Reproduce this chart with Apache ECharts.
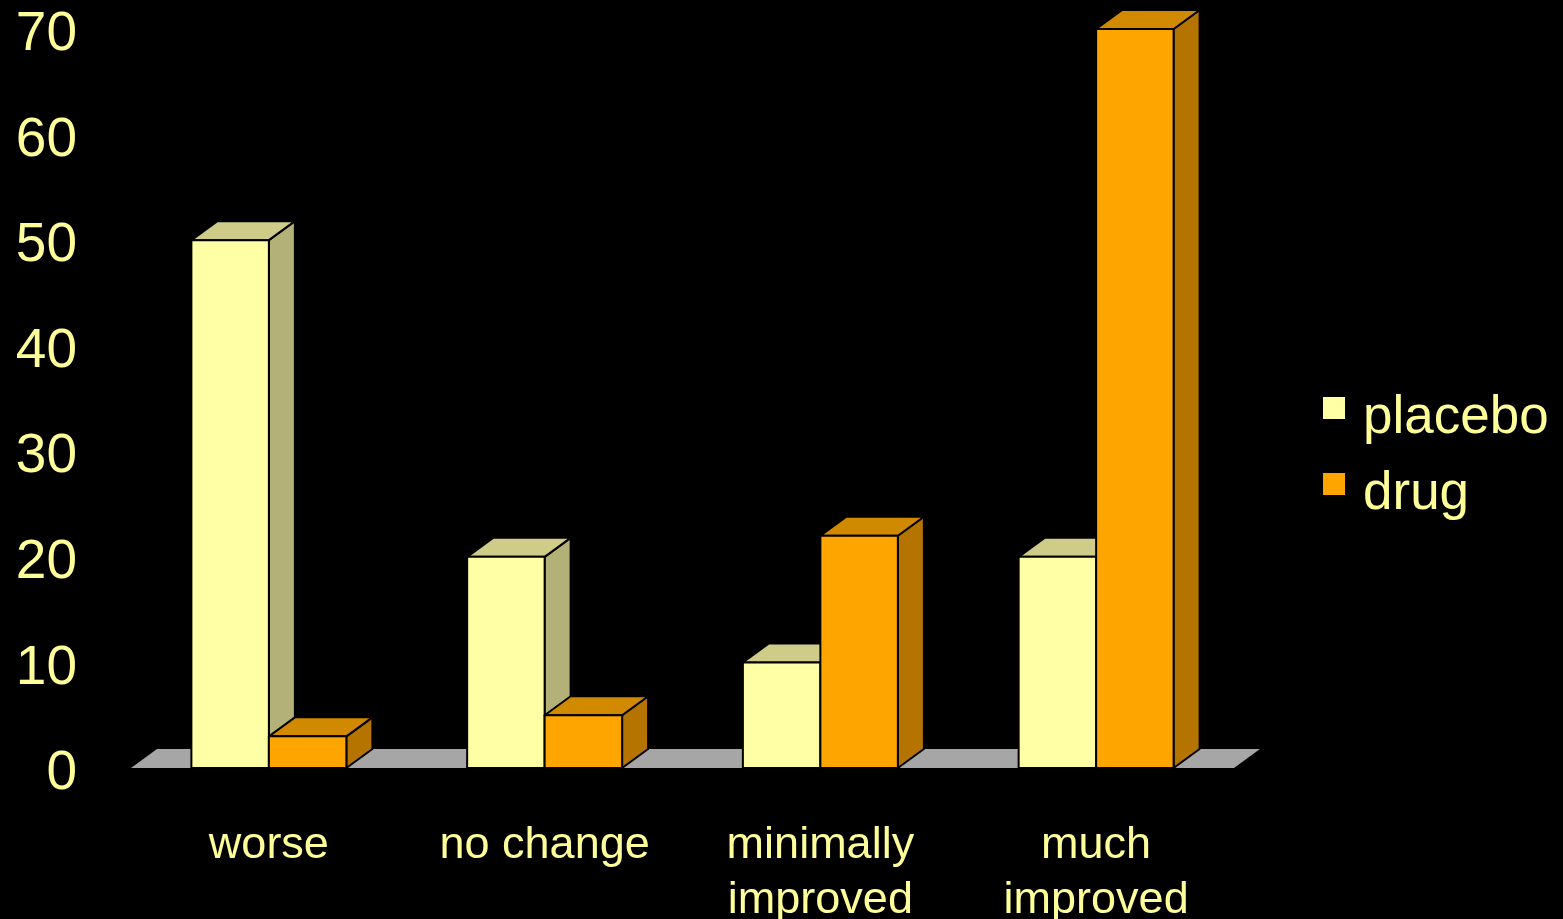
<!DOCTYPE html>
<html>
<head>
<meta charset="utf-8">
<title>Outcome by group</title>
<script src="https://cdn.jsdelivr.net/npm/echarts@6/dist/echarts.min.js"></script>
<style>
  html, body { margin: 0; padding: 0; background: #000; }
  #chart { width: 1563px; height: 919px; }
</style>
</head>
<body>
<div id="chart"></div>
<script>
// Outcome categories and percentages per group
const categories = ['worse', 'no change', 'minimally\nimproved', 'much\nimproved'];
const placebo = [50, 20, 10, 20];
const drug = [3, 5, 22, 70];
const yMin = 0;
const yMax = 70;
const yStep = 10;

// Face shades: front, top, side
const placeboShades = ['#ffffa6', '#cfcc8a', '#b3b177'];
const drugShades = ['#ffa500', '#d18a00', '#b57400'];
const textColor = '#ffff99';
const fontFamily = '"Liberation Sans", Arial, sans-serif';

// Oblique depth used for the pseudo-3D look
const DX = 26;
const DY = 19;

function bar3D(slot, shades) {
  return function (params, api) {
    const ci = api.value(0);
    const v = api.value(1);
    const top = api.coord([ci, v]);
    const base = api.coord([ci, 0]);
    const band = api.size([1, 0])[0];
    const w = band * 0.281;
    const x0 = slot === 0 ? top[0] - w : top[0];
    const x1 = x0 + w;
    const y0 = top[1];
    const y1 = base[1];
    const edge = { stroke: '#000', lineWidth: 2, lineJoin: 'round' };
    return {
      type: 'group',
      children: [
        { type: 'polygon', shape: { points: [[x1, y0], [x1 + DX, y0 - DY], [x1 + DX, y1 - DY], [x1, y1]] },
          style: Object.assign({ fill: shades[2] }, edge) },
        { type: 'polygon', shape: { points: [[x0, y0], [x0 + DX, y0 - DY], [x1 + DX, y0 - DY], [x1, y0]] },
          style: Object.assign({ fill: shades[1] }, edge) },
        { type: 'rect', shape: { x: x0, y: y0, width: w, height: y1 - y0 },
          style: Object.assign({ fill: shades[0] }, edge) }
      ]
    };
  };
}

function floor(params, api) {
  const cs = params.coordSys;
  const y = api.coord([0, 0])[1];
  return {
    type: 'polygon',
    silent: true,
    shape: { points: [[cs.x, y], [cs.x + DX, y - DY], [cs.x + cs.width + DX, y - DY], [cs.x + cs.width, y]] },
    style: { fill: '#a6a6a6' }
  };
}

const chart = echarts.init(document.getElementById('chart'));
chart.setOption({
  backgroundColor: '#000',
  animation: false,
  grid: { left: 131, right: 329, top: 29, bottom: 151, containLabel: false, outerBoundsMode: 'none' },
  legend: {
    orient: 'vertical',
    left: 1318,
    top: 366,
    itemWidth: 22,
    itemHeight: 22,
    itemGap: 2,
    icon: 'rect',
    data: ['placebo', 'drug'],
    formatter: '{t|{name}}',
    textStyle: {
      color: textColor, fontSize: 53, fontFamily: fontFamily,
      rich: { t: { color: textColor, fontSize: 53, fontFamily: fontFamily, lineHeight: 54, padding: [21, 0, 0, 13] } }
    }
  },
  xAxis: {
    type: 'category',
    data: categories,
    axisLine: { show: false },
    axisTick: { show: false },
    splitLine: { show: false },
    axisLabel: { color: textColor, fontSize: 45, fontFamily: fontFamily, lineHeight: 55, margin: 50, interval: 0 }
  },
  yAxis: {
    type: 'value',
    min: yMin,
    max: yMax,
    interval: yStep,
    axisLine: { show: false },
    axisTick: { show: false },
    splitLine: { show: false },
    axisLabel: {
      margin: 54,
      formatter: '{v|{value}}',
      rich: { v: { color: textColor, fontSize: 55, fontFamily: fontFamily, padding: [12, 0, 0, 0] } }
    }
  },
  series: [
    { type: 'custom', name: 'floor', renderItem: floor, data: [[0, 0]], silent: true, z: 1 },
    { type: 'custom', name: 'placebo', renderItem: bar3D(0, placeboShades), itemStyle: { color: placeboShades[0] },
      encode: { x: 0, y: 1 }, data: placebo.map((v, i) => [i, v]), z: 2 },
    { type: 'custom', name: 'drug', renderItem: bar3D(1, drugShades), itemStyle: { color: drugShades[0] },
      encode: { x: 0, y: 1 }, data: drug.map((v, i) => [i, v]), z: 3 }
  ]
});
</script>
</body>
</html>
